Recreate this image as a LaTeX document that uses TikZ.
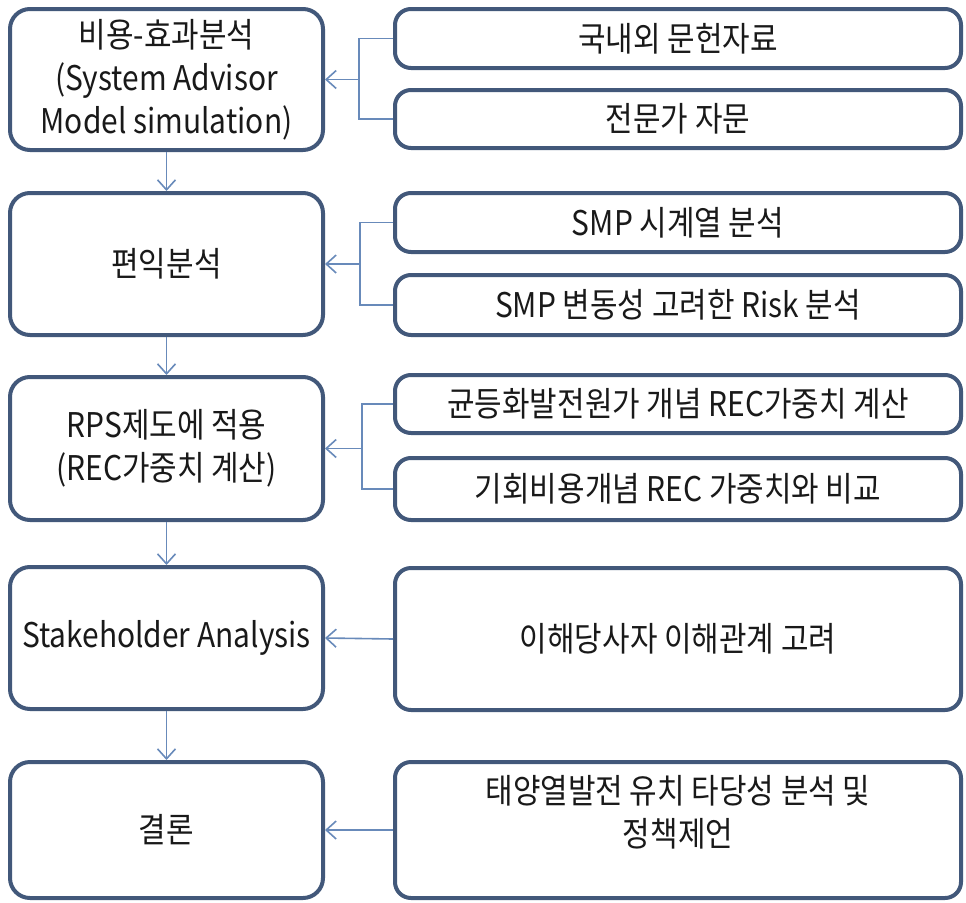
\documentclass[tikz,border=0pt]{standalone}
\usepackage{fontspec}
\setmainfont[FakeStretch=0.88]{Noto Sans CJK KR}
\usetikzlibrary{arrows.meta}
\definecolor{boxline}{RGB}{66,88,122}
\definecolor{connline}{RGB}{104,138,186}
\definecolor{txt}{RGB}{25,25,25}
\tikzset{
  lbox/.style={draw=boxline, line width=4pt, rounded corners=20pt, fill=white,
    minimum width=313pt, align=center, text=txt, inner sep=0pt,
    font=\fontsize{34}{43}\selectfont},
  rbox/.style={draw=boxline, line width=4pt, rounded corners=16pt, fill=white,
    minimum width=566pt, align=center, text=txt, inner sep=0pt,
    font=\fontsize{34}{43}\selectfont},
  plaintext/.style={align=center, text=txt, inner sep=0pt,
    font=\fontsize{34}{43}\selectfont},
  conn/.style={draw=connline, line width=1.6pt},
  arr/.style={conn, -{Straight Barb[length=10pt,width=18pt,line width=1.6pt]}}
}
\begin{document}
\begin{tikzpicture}[x=1pt,y=-1pt]
\useasboundingbox (0,0) rectangle (966,902);
% left column
\node[lbox, minimum height=141pt] (b1) at (166.5,79.5) {비용-효과분석\\(System Advisor\\Model simulation)};
\node[lbox, minimum height=142pt] (b2) at (166.5,264) {편익분석};
\node[lbox, minimum height=143pt] (b3) at (166.5,448.5) {RPS제도에 적용\\(REC가중치 계산)};
\node[lbox, minimum height=142pt] (b4) at (166.5,638) {Stakeholder Analysis};
\node[lbox, minimum height=136pt] (b5) at (166.5,830) {결론};
% right column
\node[rbox, minimum height=59pt] (r1a) at (678,38.5) {국내외 문헌자료};
\node[rbox, minimum height=58pt] (r1b) at (678,119) {전문가 자문};
\node[rbox, minimum height=59pt] (r2a) at (678,222.5) {SMP 시계열 분석};
\node[rbox, minimum height=60pt] (r2b) at (678,305) {SMP 변동성 고려한 Risk 분석};
\node[rbox, minimum height=58pt] (r3a) at (678,404) {균등화발전원가 개념 REC가중치 계산};
\node[rbox, minimum height=62pt] (r3b) at (678,489) {기회비용개념 REC 가중치와 비교};
\node[rbox, minimum height=142pt] (r4) at (678,639) {이해당사자 이해관계 고려};
\node[rbox, minimum height=136pt] (r5) at (678,830) {};
\node[plaintext] (r5t) at (678,812) {태양열발전 유치 타당성 분석 및\\정책제언};
% junctions
\coordinate (j1) at (359,79.5);
\coordinate (j2) at (360,264);
\coordinate (j3) at (362,448.5);
% connectors row 1
\draw[conn] (r1a.west) -| (j1);
\draw[conn] (r1b.west) -| (j1);
\draw[arr] (j1) -- (b1.east);
% row 2
\draw[conn] (r2a.west) -| (j2);
\draw[conn] (r2b.west) -| (j2);
\draw[arr] (j2) -- (b2.east);
% row 3
\draw[conn] (r3a.west) -| (j3);
\draw[conn] (r3b.west) -| (j3);
\draw[arr] (j3) -- (b3.east);
% rows 4,5
\draw[arr] (r4.west) -- (b4.east);
\draw[arr] (r5.west) -- (b5.east);
% vertical
\draw[arr] (b1.south) -- (b2.north);
\draw[arr] (b2.south) -- (b3.north);
\draw[arr] (b3.south) -- (b4.north);
\draw[arr] (b4.south) -- (b5.north);
\end{tikzpicture}
\end{document}
